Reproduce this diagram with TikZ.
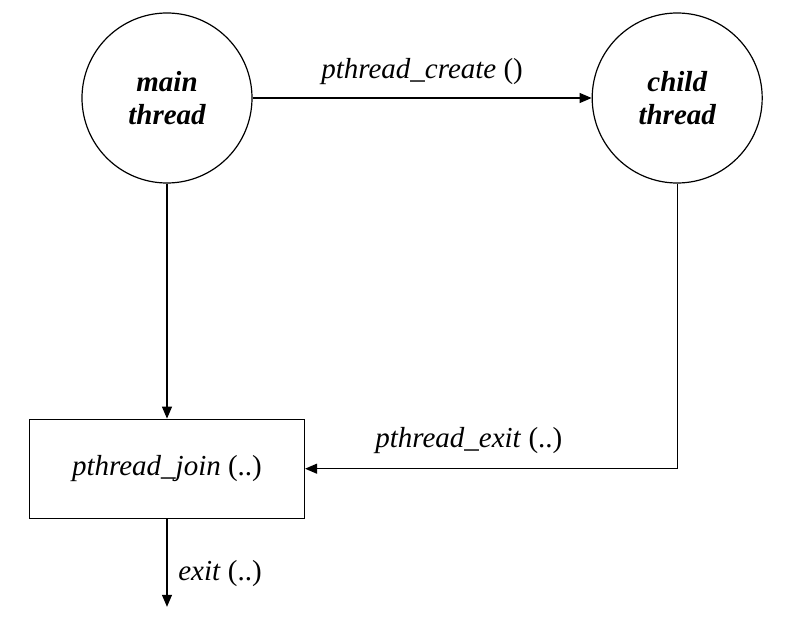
\documentclass[tikz,border=0pt]{standalone}
\usepackage{fontspec}
\setmainfont{Liberation Serif}
\usetikzlibrary{arrows.meta,positioning}

\begin{document}
\begin{tikzpicture}[node distance=117.5pt and 169.5pt,
  every node/.style={font=\fontsize{14.5}{16.5}\selectfont},
  thread/.style={draw, circle, line width=0.6pt, minimum size=85pt, inner sep=0pt, align=center, font=\fontsize{14.5}{16.5}\selectfont\bfseries\itshape},
  callbox/.style={draw, line width=0.6pt, minimum width=137.5pt, minimum height=49.5pt},
  flow/.style={-{Triangle[length=6pt,width=5pt]}, line width=0.6pt}]
  \useasboundingbox (-83.5pt,-269.5pt) rectangle (313pt,49pt);
  \node[thread] (main) at (0,0) {main\\thread};
  \node[thread, right=of main] (child) {child\\thread};
  \node[callbox, below=of main] (join) {\textit{pthread\_join} (..)};
  \coordinate[below=44pt of join] (end);

  \draw[flow] (main) -- (child) node[midway, above=3pt] {\textit{pthread\_create} ()};
  \draw[flow] (main) -- (join);
  \draw[flow] (child) |- (join) node[pos=0.78, above=4pt] {\textit{pthread\_exit} (..)};
  \draw[flow] (join) -- (end) node[pos=0.62, right=2pt] {\textit{exit} (..)};
\end{tikzpicture}
\end{document}
